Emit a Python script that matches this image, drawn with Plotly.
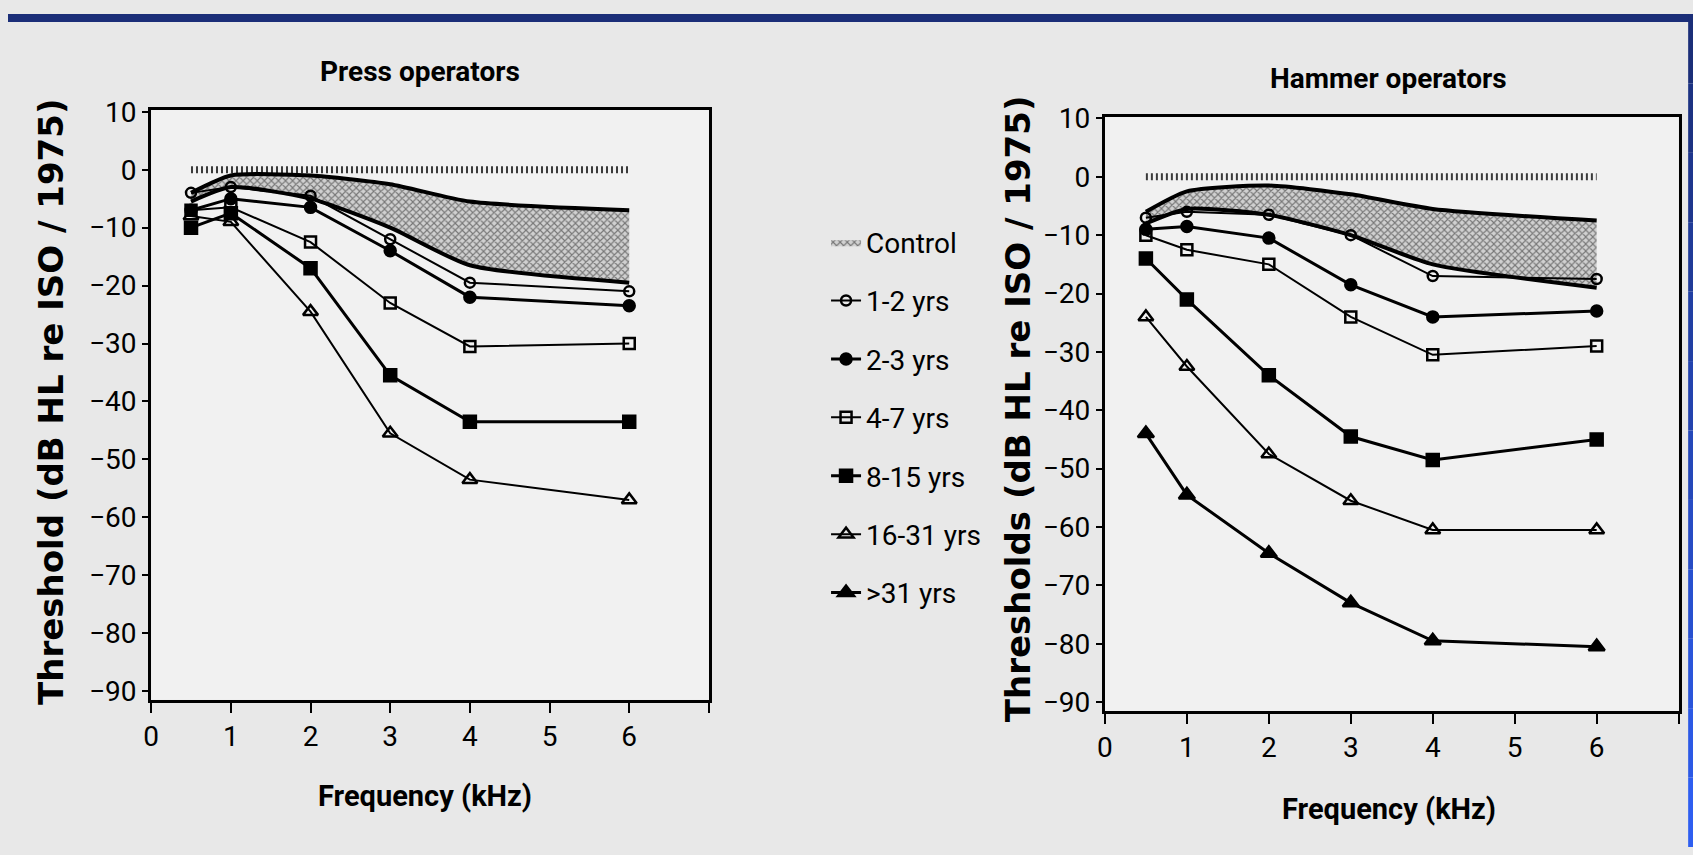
import plotly.graph_objects as go

# ---------------- data ----------------
freq = [0.5, 1, 2, 3, 4, 6]
series_names = ["1-2 yrs", "2-3 yrs", "4-7 yrs", "8-15 yrs", "16-31 yrs", ">31 yrs"]

press_control_upper = [-4, -1, -1, -2.5, -5.5, -7]
press_control_lower = [-5.5, -3, -5, -10, -16.5, -19.5]
press_1_2 = [-4, -3, -4.5, -12, -19.5, -21]
press_2_3 = [-7, -5, -6.5, -14, -22, -23.5]
press_4_7 = [-7, -6.5, -12.5, -23, -30.5, -30]
press_8_15 = [-10, -7.5, -17, -35.5, -43.5, -43.5]
press_16_31 = [-8, -9, -24.5, -45.5, -53.5, -57]

hammer_control_upper = [-6, -2.5, -1.5, -3, -5.5, -7.5]
hammer_control_lower = [-8, -5.5, -6.5, -10, -15, -19]
hammer_1_2 = [-7, -6, -6.5, -10, -17, -17.5]
hammer_2_3 = [-9, -8.5, -10.5, -18.5, -24, -23]
hammer_4_7 = [-10, -12.5, -15, -24, -30.5, -29]
hammer_8_15 = [-14, -21, -34, -44.5, -48.5, -45]
hammer_16_31 = [-24, -32.5, -47.5, -55.5, -60.5, -60.5]
hammer_over_31 = [-44, -54.5, -64.5, -73, -79.5, -80.5]

ref_x = [0.5, 6]
ref_y = [0, 0]

x_ticks = [0, 1, 2, 3, 4, 5, 6, 7]
x_tick_labels = ["0", "1", "2", "3", "4", "5", "6", ""]
y_ticks = [10, 0, -10, -20, -30, -40, -50, -60, -70, -80, -90]

press_series = [press_1_2, press_2_3, press_4_7, press_8_15, press_16_31]
hammer_series = [hammer_1_2, hammer_2_3, hammer_4_7, hammer_8_15, hammer_16_31, hammer_over_31]

# ---------------- layout helpers ----------------
W, H = 1693, 855
# the photographed figure lands in a slightly inset box; map target pixels to paper fractions
SX, OX, SY, OY = 0.994, 8.0, 0.977, 13.0


def px(x):
    return ((x - OX) / SX) / W


def py(y):
    return 1 - ((y - OY) / SY) / H


NARROW = "Roboto, Liberation Sans, sans-serif"
WIDE = "DejaVu Sans, Liberation Sans, sans-serif"
styles = {
    "1-2 yrs": dict(symbol="circle-open", size=10, lw=2),
    "2-3 yrs": dict(symbol="circle", size=11, lw=3),
    "4-7 yrs": dict(symbol="square-open", size=11, lw=2),
    "8-15 yrs": dict(symbol="square", size=12, lw=3),
    "16-31 yrs": dict(symbol="triangle-up-open", size=13, lw=2),
    ">31 yrs": dict(symbol="triangle-up", size=14, lw=3),
}

fig = go.Figure()
shown = set()


def add_panel(upper, lower, series, names, xa, ya):
    fig.add_trace(go.Scatter(x=ref_x, y=ref_y, mode="lines", xaxis=xa, yaxis=ya,
                             line=dict(color="#3a3a3a", width=7, dash="2px,3px"),
                             showlegend=False, hoverinfo="skip"))
    fig.add_trace(go.Scatter(x=freq + freq[::-1], y=upper + lower[::-1], fill="toself",
                             mode="lines", line=dict(width=0, color="black"),
                             fillcolor="#d0d0d0",
                             fillpattern=dict(shape="x", size=5, solidity=0.4,
                                              fgcolor="#1e1e1e", bgcolor="#d0d0d0"),
                             name="Control", legendgroup="Control", legendrank=1,
                             showlegend="Control" not in shown, xaxis=xa, yaxis=ya))
    shown.add("Control")
    for edge in (upper, lower):
        fig.add_trace(go.Scatter(x=freq, y=edge, mode="lines", xaxis=xa, yaxis=ya,
                                 line=dict(color="black", width=4, shape="spline", smoothing=0.6),
                                 showlegend=False, legendgroup="Control"))
    for vals, nm in zip(series, names):
        st = styles[nm]
        fig.add_trace(go.Scatter(
            x=freq, y=vals, mode="lines+markers", name=nm, legendgroup=nm,
            legendrank=2 + series_names.index(nm), showlegend=nm not in shown,
            xaxis=xa, yaxis=ya,
            line=dict(color="black", width=st["lw"]),
            marker=dict(symbol=st["symbol"], size=st["size"], color="black",
                        line=dict(color="black", width=2.5))))
        shown.add(nm)


add_panel(press_control_upper, press_control_lower, press_series, series_names[:5], "x", "y")
add_panel(hammer_control_upper, hammer_control_lower, hammer_series, series_names, "x2", "y2")

axis_common = dict(showgrid=False, zeroline=False, showline=True, linecolor="black",
                   linewidth=3, mirror=True, ticks="outside", tickcolor="black",
                   tickwidth=2, tickfont=dict(family=NARROW, size=28, color="black"))

fig.update_layout(
    autosize=True, margin=dict(l=0, r=0, t=0, b=0),
    paper_bgcolor="#e8e8e8", plot_bgcolor="#f1f1f1",
    xaxis=dict(domain=[px(151), px(708)], range=[0, 7], tickvals=x_ticks,
               ticktext=x_tick_labels, ticklen=10, anchor="y", **axis_common),
    yaxis=dict(domain=[py(700.7), py(109.3)], range=[-91.5, 10.3], tickvals=y_ticks,
               ticklen=6, anchor="x", **axis_common),
    xaxis2=dict(domain=[px(1103.5), px(1676.5)], range=[0, 7], tickvals=x_ticks,
                ticktext=x_tick_labels, ticklen=10, anchor="y2", **axis_common),
    yaxis2=dict(domain=[py(711.8), py(116)], range=[-91.5, 10.3], tickvals=y_ticks,
                ticklen=6, anchor="x2", **axis_common),
    showlegend=True,
    legend=dict(x=px(825), y=py(217), xanchor="left", yanchor="top",
                bgcolor="rgba(0,0,0,0)", font=dict(family=NARROW, size=28, color="black"),
                tracegroupgap=19, traceorder="grouped"),
)

annots = [
    dict(text="<b>Press operators</b>", x=419, y=71, size=28, angle=0, fam=NARROW),
    dict(text="<b>Hammer operators</b>", x=1387, y=78, size=28, angle=0, fam=NARROW),
    dict(text="<b>Frequency (kHz)</b>", x=424, y=797, size=29, angle=0, fam=NARROW),
    dict(text="<b>Frequency (kHz)</b>", x=1387, y=810, size=29, angle=0, fam=NARROW),
    dict(text="<b>Threshold (dB HL re ISO / 1975)</b>", x=51, y=402, size=34, angle=-90, fam=WIDE),
    dict(text="<b>Thresholds (dB HL re ISO / 1975)</b>", x=1017, y=409, size=34, angle=-90, fam=WIDE),
]
for a in annots:
    fig.add_annotation(text=a["text"], x=px(a["x"]), y=py(a["y"]), xref="paper", yref="paper",
                       showarrow=False, textangle=a["angle"], xanchor="center", yanchor="middle",
                       font=dict(family=a["fam"], size=a["size"], color="black"))

# blue slide frame (top band and right edge)
shapes = [dict(type="rect", xref="paper", yref="paper", x0=0, x1=1, y0=py(21), y1=1,
               fillcolor="#1b2e78", line=dict(width=0), layer="above")]
n = 12
for k in range(n):
    t = k / (n - 1)
    r = int(0x1b + (0x2e - 0x1b) * t)
    g = int(0x2e + (0x5e - 0x2e) * t)
    b = int(0x78 + (0xf0 - 0x78) * t)
    col = f"#{r:02x}{g:02x}{b:02x}"
    y1 = 1 - k / n
    y0 = 1 - (k + 1) / n
    shapes.append(dict(type="rect", xref="paper", yref="paper", x0=px(1686), x1=1, y0=y0, y1=y1,
                       fillcolor=col, line=dict(width=0), layer="above"))
fig.update_layout(shapes=shapes)

fig.write_html(
    "out.html",
    config={"displayModeBar": False, "responsive": True},
    default_width="100vw",
    default_height="100vh",
    post_script="document.body.style.margin='0';document.body.style.overflow='hidden';",
)
